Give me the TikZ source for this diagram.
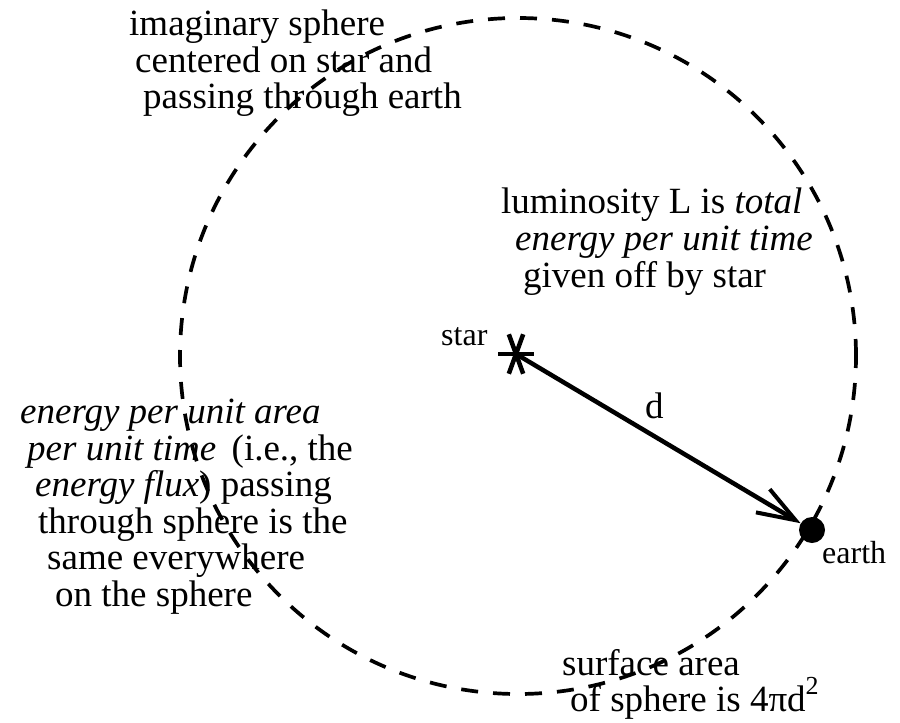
\documentclass[tikz,border=0pt]{standalone}
\usepackage{fontspec}
\setmainfont{Liberation Serif}
\usetikzlibrary{arrows.meta}
\tikzset{
  txt/.style={anchor=base west, inner sep=0pt, font=\fontsize{37}{37}\selectfont},
  smalltxt/.style={anchor=base west, inner sep=0pt, font=\fontsize{32}{32}\selectfont},
  spherestyle/.style={dash pattern=on 17pt off 15pt, line width=3.7pt},
  armstyle/.style={line width=4.5pt},
  diststyle/.style={line width=4.5pt, -{Straight Barb[length=38pt,width=27pt,line width=4pt]}},
  earthstyle/.style={circle, fill=black, inner sep=0pt, minimum size=26pt}
}
\begin{document}
\begin{tikzpicture}[x=1pt,y=-1pt]
\useasboundingbox (0,0) rectangle (900,723);
% imaginary sphere
\coordinate (sph) at (518,356);
\draw[spherestyle] (sph) circle[radius=338pt];
% star and earth
\node[inner sep=0pt, minimum size=0pt] (star) at (516,354) {};
\draw[armstyle] (star.center) ++(-18pt,0pt) -- ++(36pt,0pt);
\draw[armstyle] (star.center) ++(70:-21pt) -- ++(70:42pt);
\draw[armstyle] (star.center) ++(110:-21pt) -- ++(110:42pt);
\node[earthstyle] (earth) at (812,530) {};
\draw[diststyle] (star.center) -- (earth);
% labels
\node[smalltxt] (starlabel) at (441,345) {star};
\node[smalltxt] (earthlabel) at (822,563) {earth};
\node[txt] (dlabel) at (645,418) {d};
% top-left block
\node[txt] (ta) at (129,35) {imaginary sphere};
\node[txt] (tb) at (135,72) {centered on star and};
\node[txt] (tc) at (143,108) {passing through earth};
% luminosity block
\node[txt] (la) at (501,213) {luminosity L is \textit{total}};
\node[txt] (lb) at (515,250) {\textit{energy per unit time}};
\node[txt] (lc) at (523,287) {given off by star};
% flux block
\node[txt] (fa) at (20,423) {\textit{energy per unit area}};
\node[txt] (fb) at (27,460) {\textit{per unit time}\, (i.e., the};
\node[txt] (fc) at (35,496) {\textit{energy flux}) passing};
\node[txt] (fd) at (38,533) {through sphere is the};
\node[txt] (fe) at (47,569) {same everywhere};
\node[txt] (ff) at (55,606) {on the sphere};
% surface area block
\node[txt] (sa) at (562,675) {surface area};
\node[txt] (sb) at (570,711) {of sphere is 4πd\raisebox{0.45em}{\fontsize{26}{26}\selectfont 2}};
\end{tikzpicture}
\end{document}
